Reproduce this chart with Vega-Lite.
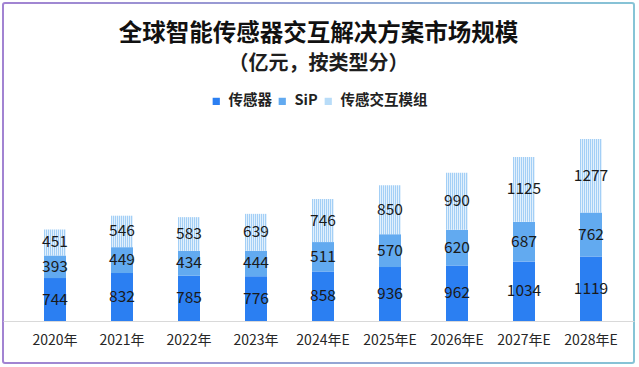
{
  "$schema": "https://vega.github.io/schema/vega-lite/v6.json",
  "width": 631,
  "height": 360,
  "autosize": {"type": "none"},
  "padding": {"left": 3, "top": 3, "right": 5, "bottom": 4},
  "background": "white",
  "title": {
    "text": "全球智能传感器交互解决方案市场规模",
    "subtitle": "（亿元，按类型分）",
    "frame": "group",
    "anchor": "middle",
    "offset": -71,
    "font": "Noto Sans CJK SC",
    "fontSize": 23.5,
    "fontWeight": "bold",
    "color": "#111111",
    "subtitleFont": "Noto Sans CJK SC",
    "subtitleFontSize": 20,
    "subtitleFontWeight": "bold",
    "subtitleColor": "#1e1e1e",
    "subtitlePadding": 9
  },
  "config": {
    "view": {
      "strokeWidth": 2,
      "cornerRadius": 2,
      "stroke": {
        "gradient": "linear",
        "x1": 0, "y1": 0, "x2": 1, "y2": 0,
        "stops": [
          {"offset": 0, "color": "#a283d2"},
          {"offset": 1, "color": "#86c4d6"}
        ]
      }
    }
  },
  "data": {
    "values": [
      {"year": "2020年", "series": "传感器", "k": 1, "value": 744},
      {"year": "2020年", "series": "SiP", "k": 2, "value": 393},
      {"year": "2020年", "series": "传感交互模组", "k": 3, "value": 451},
      {"year": "2021年", "series": "传感器", "k": 1, "value": 832},
      {"year": "2021年", "series": "SiP", "k": 2, "value": 449},
      {"year": "2021年", "series": "传感交互模组", "k": 3, "value": 546},
      {"year": "2022年", "series": "传感器", "k": 1, "value": 785},
      {"year": "2022年", "series": "SiP", "k": 2, "value": 434},
      {"year": "2022年", "series": "传感交互模组", "k": 3, "value": 583},
      {"year": "2023年", "series": "传感器", "k": 1, "value": 776},
      {"year": "2023年", "series": "SiP", "k": 2, "value": 444},
      {"year": "2023年", "series": "传感交互模组", "k": 3, "value": 639},
      {"year": "2024年E", "series": "传感器", "k": 1, "value": 858},
      {"year": "2024年E", "series": "SiP", "k": 2, "value": 511},
      {"year": "2024年E", "series": "传感交互模组", "k": 3, "value": 746},
      {"year": "2025年E", "series": "传感器", "k": 1, "value": 936},
      {"year": "2025年E", "series": "SiP", "k": 2, "value": 570},
      {"year": "2025年E", "series": "传感交互模组", "k": 3, "value": 850},
      {"year": "2026年E", "series": "传感器", "k": 1, "value": 962},
      {"year": "2026年E", "series": "SiP", "k": 2, "value": 620},
      {"year": "2026年E", "series": "传感交互模组", "k": 3, "value": 990},
      {"year": "2027年E", "series": "传感器", "k": 1, "value": 1034},
      {"year": "2027年E", "series": "SiP", "k": 2, "value": 687},
      {"year": "2027年E", "series": "传感交互模组", "k": 3, "value": 1125},
      {"year": "2028年E", "series": "传感器", "k": 1, "value": 1119},
      {"year": "2028年E", "series": "SiP", "k": 2, "value": 762},
      {"year": "2028年E", "series": "传感交互模组", "k": 3, "value": 1277}
    ]
  },
  "transform": [
    {"stack": "value", "groupby": ["year"], "sort": [{"field": "k", "order": "ascending"}], "as": ["v0", "v1"]}
  ],
  "encoding": {
    "x": {
      "field": "year",
      "type": "nominal",
      "sort": null,
      "scale": {"paddingInner": 0.672, "paddingOuter": 0.542, "align": 0.564, "round": true},
      "axis": {
        "title": null,
        "orient": "bottom",
        "offset": -42,
        "ticks": false,
        "domain": true,
        "domainColor": "#d9d9d9",
        "domainWidth": 1,
        "grid": false,
        "labelAngle": 0,
        "labelFont": "Noto Sans CJK SC",
        "labelFontSize": 14,
        "labelColor": "#262626",
        "labelPadding": 12
      }
    }
  },
  "layer": [
    {
      "mark": {"type": "bar"},
      "encoding": {
        "y": {"field": "v0", "type": "quantitative", "scale": {"domain": [-729, 5518], "nice": false, "zero": false}, "axis": null},
        "y2": {"field": "v1"},
        "color": {
          "condition": {
            "test": "datum.k === 3",
            "value": {
              "gradient": "linear",
              "x1": 0, "y1": 0, "x2": 1, "y2": 0,
              "stops": [
                {"offset": 0, "color": "#a3cff6"}, {"offset": 0.0455, "color": "#a3cff6"}, {"offset": 0.0455, "color": "#e2f0fc"}, {"offset": 0.0909, "color": "#e2f0fc"},
                {"offset": 0.0909, "color": "#a3cff6"}, {"offset": 0.1364, "color": "#a3cff6"}, {"offset": 0.1364, "color": "#e2f0fc"}, {"offset": 0.1818, "color": "#e2f0fc"},
                {"offset": 0.1818, "color": "#a3cff6"}, {"offset": 0.2273, "color": "#a3cff6"}, {"offset": 0.2273, "color": "#e2f0fc"}, {"offset": 0.2727, "color": "#e2f0fc"},
                {"offset": 0.2727, "color": "#a3cff6"}, {"offset": 0.3182, "color": "#a3cff6"}, {"offset": 0.3182, "color": "#e2f0fc"}, {"offset": 0.3636, "color": "#e2f0fc"},
                {"offset": 0.3636, "color": "#a3cff6"}, {"offset": 0.4091, "color": "#a3cff6"}, {"offset": 0.4091, "color": "#e2f0fc"}, {"offset": 0.4545, "color": "#e2f0fc"},
                {"offset": 0.4545, "color": "#a3cff6"}, {"offset": 0.5, "color": "#a3cff6"}, {"offset": 0.5, "color": "#e2f0fc"}, {"offset": 0.5455, "color": "#e2f0fc"},
                {"offset": 0.5455, "color": "#a3cff6"}, {"offset": 0.5909, "color": "#a3cff6"}, {"offset": 0.5909, "color": "#e2f0fc"}, {"offset": 0.6364, "color": "#e2f0fc"},
                {"offset": 0.6364, "color": "#a3cff6"}, {"offset": 0.6818, "color": "#a3cff6"}, {"offset": 0.6818, "color": "#e2f0fc"}, {"offset": 0.7273, "color": "#e2f0fc"},
                {"offset": 0.7273, "color": "#a3cff6"}, {"offset": 0.7727, "color": "#a3cff6"}, {"offset": 0.7727, "color": "#e2f0fc"}, {"offset": 0.8182, "color": "#e2f0fc"},
                {"offset": 0.8182, "color": "#a3cff6"}, {"offset": 0.8636, "color": "#a3cff6"}, {"offset": 0.8636, "color": "#e2f0fc"}, {"offset": 0.9091, "color": "#e2f0fc"},
                {"offset": 0.9091, "color": "#a3cff6"}, {"offset": 0.9545, "color": "#a3cff6"}, {"offset": 0.9545, "color": "#e2f0fc"}, {"offset": 1, "color": "#e2f0fc"}
              ]
            }
          },
          "field": "series",
          "type": "nominal",
          "sort": ["传感器", "SiP", "传感交互模组"],
          "scale": {
            "domain": ["传感器", "SiP", "传感交互模组"],
            "range": ["#2b7ff2", "#62aaf0", "#b8dcf8"]
          },
          "legend": {
            "orient": "none",
            "legendX": 206,
            "legendY": 91,
            "direction": "horizontal",
            "title": null,
            "symbolType": "square",
            "symbolSize": 52,
            "symbolStrokeWidth": 0,
            "labelFont": "Noto Sans CJK SC",
            "labelFontSize": 14.5,
            "labelFontWeight": "bold",
            "labelColor": "#222222",
            "columnPadding": 3,
            "labelOffset": 5
          }
        }
      }
    },
    {
      "mark": {
        "type": "text",
        "font": "Noto Sans CJK SC",
        "fontSize": 15.5,
        "color": "#1a1a1a",
        "baseline": "middle",
        "dy": {"expr": "(scale('y', datum.v1) - scale('y', datum.v0)) / 2"}
      },
      "encoding": {
        "y": {"field": "v0", "type": "quantitative"},
        "text": {"field": "value", "type": "quantitative"}
      }
    }
  ]
}
